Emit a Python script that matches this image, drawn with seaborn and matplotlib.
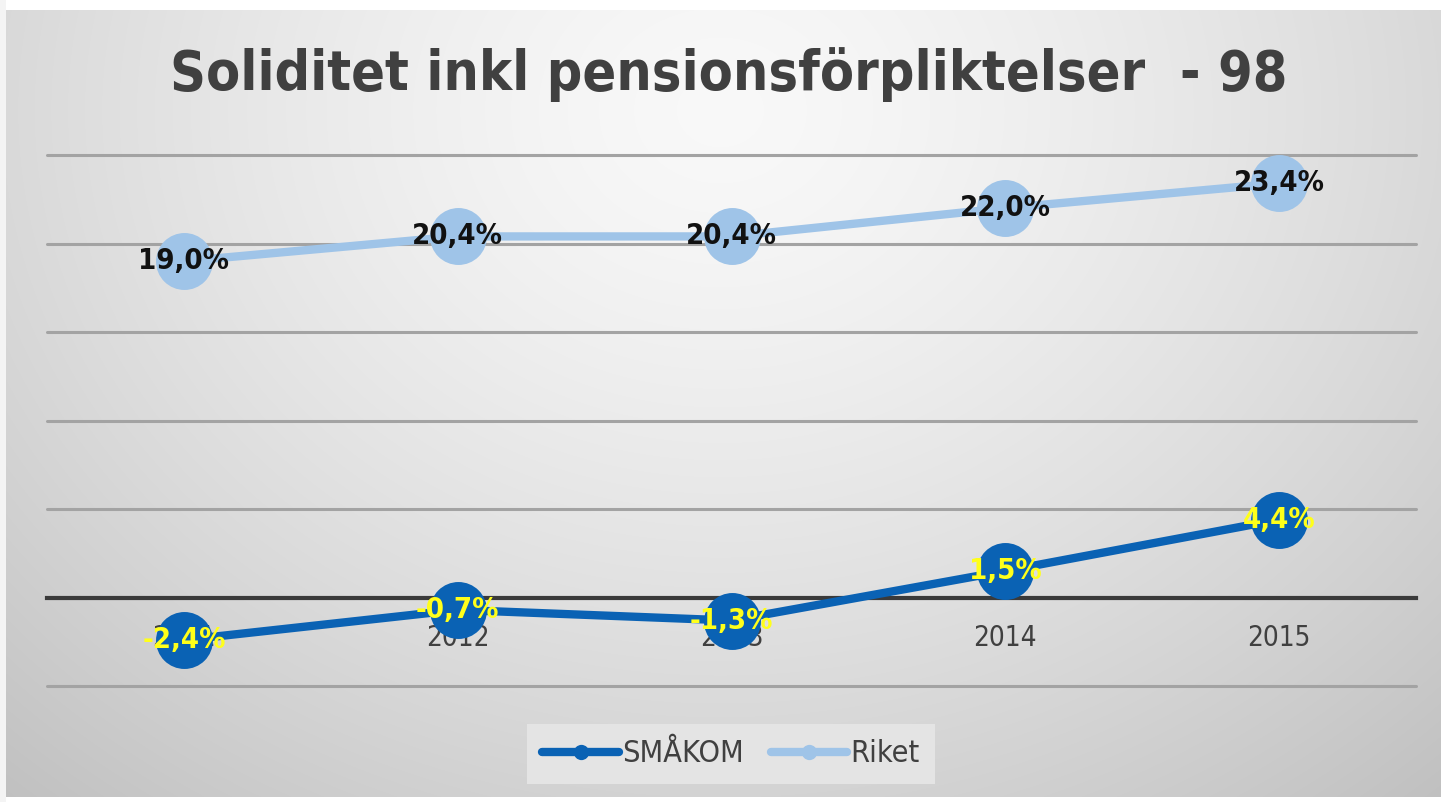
import numpy as np
import pandas as pd
import matplotlib
matplotlib.use("Agg")
import matplotlib.pyplot as plt
import seaborn as sns
from matplotlib.lines import Line2D

# ---- data ----
years = ["2011", "2012", "2013", "2014", "2015"]
smakom = [-2.4, -0.7, -1.3, 1.5, 4.4]
riket = [19.0, 20.4, 20.4, 22.0, 23.4]
series_names = ["SMÅKOM", "Riket"]
series_colors = ["#0A62B4", "#9FC4E8"]
label_colors = ["#FFFF1A", "#111111"]
title_text = "Soliditet inkl pensionsförpliktelser  - 98"
y_ticks = [-5, 0, 5, 10, 15, 20, 25]

sns.set_style("white")
plt.rcParams["font.family"] = ["DejaVu Sans"]
plt.rcParams["font.stretch"] = "condensed"

W, H = 1441, 802
fig = plt.figure(figsize=(W / 100, H / 100), dpi=100)

# background gradient
yy, xx = np.mgrid[0:H, 0:W]
r = np.sqrt(((xx - 720) / 900.0) ** 2 + ((yy - 110) / 760.0) ** 2)
val = np.clip(0.975 - 0.17 * r ** 1.4, 0, 1)
img = np.dstack([val, val, val])
img[:10, :, :] = 1.0
img[797:, :, :] = 1.0
img[:, :6, :] = 0.96
bg = fig.add_axes([0, 0, 1, 1], zorder=-1)
bg.imshow(img, extent=[0, 1, 0, 1], aspect="auto", interpolation="bilinear")
bg.axis("off")

# main axes
left, right = 47 / W, 1416 / W
bottom, top = (H - 686) / H, (H - 155) / H
ax = fig.add_axes([left, bottom, right - left, top - bottom])
ax.set_facecolor("none")

df = pd.DataFrame({
    "pos": list(range(len(years))) * 2,
    "value": smakom + riket,
    "series": [series_names[0]] * len(years) + [series_names[1]] * len(years),
})

sns.lineplot(data=df, x="pos", y="value", hue="series", hue_order=series_names,
             palette=dict(zip(series_names, series_colors)), marker="o",
             markersize=41, markeredgewidth=0, linewidth=6, ax=ax,
             legend=False, zorder=3, clip_on=False)

for name, vals, lc in zip(series_names, [smakom, riket], label_colors):
    for i, v in enumerate(vals):
        ax.text(i, v, f"{v:.1f}%".replace(".", ","), ha="center", va="center",
                fontsize=21, fontweight="bold", color=lc, zorder=6)

ax.set_xlim(-0.5, len(years) - 0.5)
ax.set_ylim(y_ticks[0], y_ticks[-1])
ax.set_yticks(y_ticks)
ax.set_yticklabels([])
ax.yaxis.grid(True, color="#A3A3A3", linewidth=2.2)
for gl in ax.get_ygridlines():
    gl.set_clip_on(False)
ax.set_axisbelow(True)
ax.tick_params(axis="y", length=0)
ax.set_xticks(range(len(years)))
ax.set_xticklabels(years)
ax.tick_params(axis="x", length=0, pad=19, labelsize=20, labelcolor="#404040")
for s in ["top", "left", "right"]:
    ax.spines[s].set_visible(False)
ax.spines["bottom"].set_position(("data", 0))
ax.spines["bottom"].set_color("#3A3A3A")
ax.spines["bottom"].set_linewidth(3)
ax.set_xlabel("")
ax.set_ylabel("")

fig.text(729 / W, 1 - 75 / H, title_text, ha="center", va="center",
         fontsize=40, fontweight="bold", color="#404040")

handles = [Line2D([0], [0], color=c, lw=6, marker="o", markersize=11,
                  markeredgewidth=0) for c in series_colors]
leg = fig.legend(handles, series_names, loc="center",
                 bbox_to_anchor=(731 / W, 1 - 754 / H), bbox_transform=fig.transFigure,
                 ncol=2, fontsize=22, frameon=True, fancybox=False,
                 handlelength=2.5, handletextpad=0.1, columnspacing=0.9,
                 borderpad=0.5)
leg.get_frame().set_facecolor("#E4E4E4")
leg.get_frame().set_edgecolor("none")
leg.get_frame().set_alpha(1)
for t in leg.get_texts():
    t.set_color("#404040")

fig.savefig("out.png", dpi=100)
